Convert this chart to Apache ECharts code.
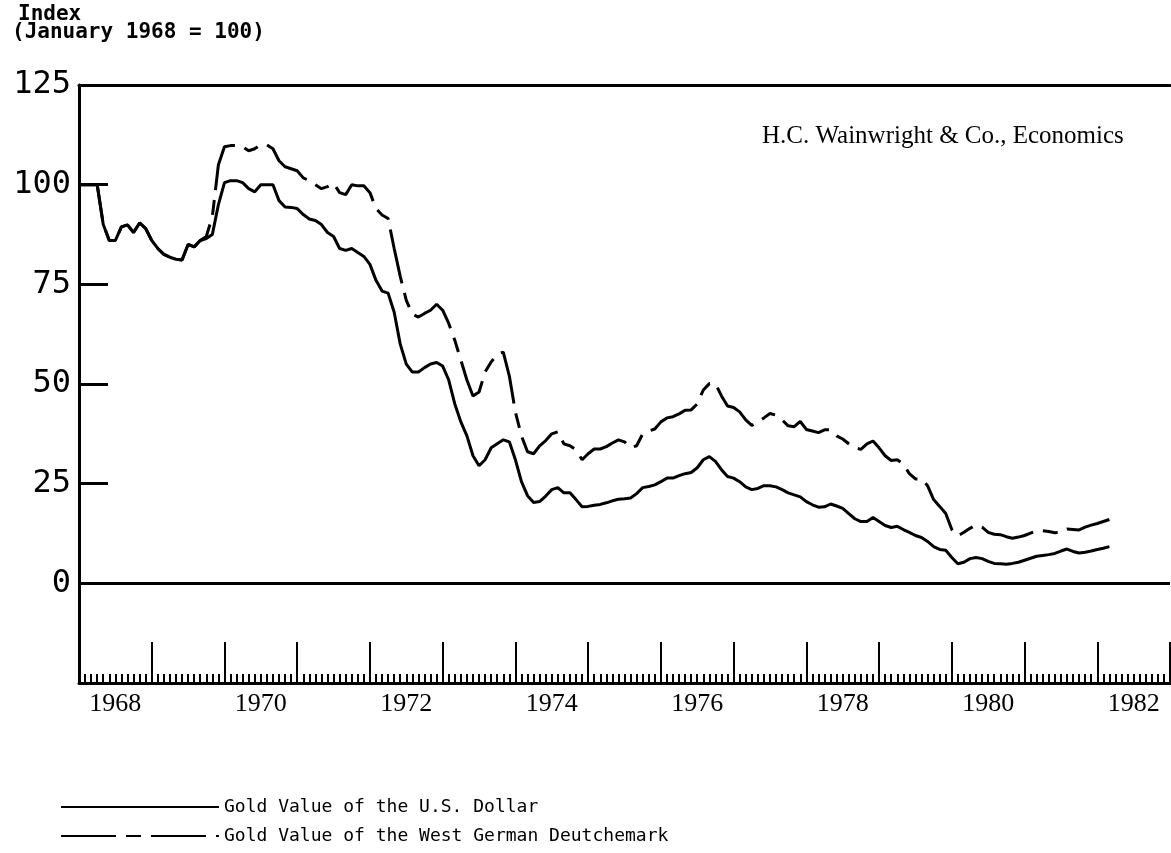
<!DOCTYPE html>
<html>
<head>
<meta charset="utf-8">
<script src="https://cdn.jsdelivr.net/npm/echarts@6/dist/echarts.min.js"></script>
<style>
  html, body { margin: 0; padding: 0; background: #fff; }
  #chart { width: 1171px; height: 853px; }
</style>
</head>
<body>
<div id="chart"></div>
<script>
// years on the time axis (Jan 1968 .. Jan 1983)
const years = [1968, 1969, 1970, 1971, 1972, 1973, 1974, 1975, 1976, 1977, 1978, 1979, 1980, 1981, 1982, 1983]

// monthly index values, Jan 1968 = 100
const usDollar = [
  100, 100, 100, 100, 90, 86, 86, 89.4, 89.9, 88, 90.4, 89,
  86, 84, 82.5, 81.8, 81.3, 81.1, 85, 84.4, 86, 86.5, 87.5, 95,
  100.5, 101, 101, 100.5, 99, 98.2, 100, 100, 100, 96, 94.4, 94.3,
  94, 92.5, 91.4, 91, 90, 88, 87, 84, 83.5, 84, 83, 82,
  80, 76, 73.3, 72.8, 68, 60, 55, 53, 53, 54.1, 55, 55.4,
  54.5, 51, 45, 40.5, 37, 32, 29.5, 31, 34, 35, 36, 35.5,
  31, 25.5, 22, 20.3, 20.5, 21.9, 23.5, 24, 22.7, 22.7, 21, 19.2,
  19.3, 19.6, 19.8, 20.2, 20.7, 21.1, 21.2, 21.4, 22.5, 24, 24.3, 24.7,
  25.5, 26.4, 26.4, 27, 27.5, 27.8, 29, 31, 31.8, 30.6, 28.5, 26.8,
  26.4, 25.5, 24.2, 23.5, 23.8, 24.5, 24.5, 24.2, 23.5, 22.7, 22.2, 21.7,
  20.5, 19.7, 19.1, 19.2, 19.9, 19.4, 18.8, 17.5, 16.2, 15.5, 15.5, 16.5,
  15.5, 14.5, 14, 14.3, 13.5, 12.8, 12, 11.5, 10.5, 9.2, 8.5, 8.3,
  6.5, 4.9, 5.3, 6.2, 6.5, 6.2, 5.5, 5.0, 4.9, 4.8, 5.0, 5.3,
  5.8, 6.3, 6.8, 7.0, 7.2, 7.5, 8.1, 8.6, 8.0, 7.6, 7.8, 8.1,
  8.5, 8.8, 9.2
]

const deutschemark = [
  100, 100, 100, 100, 90, 86, 86, 89.4, 89.9, 88, 90.4, 89,
  86, 84, 82.5, 81.8, 81.3, 81.1, 85, 84.4, 86, 87, 92, 105,
  109.5, 109.8, 109.8, 109.5, 108.5, 109, 110, 110, 109, 106, 104.5, 104,
  103.5, 101.7, 101, 100, 99, 99.5, 100.3, 98, 97.5, 100, 99.7, 99.7,
  98, 94, 92.4, 91.5, 84, 77, 71, 67.5, 66.8, 67.7, 68.5, 70,
  68.5, 65.2, 61, 56, 51, 47, 48, 53, 55.5, 57.5, 58, 52,
  43, 37, 33, 32.5, 34.5, 35.8, 37.5, 38, 35, 34.5, 33.5, 31,
  32.5, 33.7, 33.7, 34.3, 35.2, 36, 35.5, 34, 34.5, 37.5, 38.2, 38.7,
  40.5, 41.5, 41.8, 42.5, 43.4, 43.5, 45, 48.5, 50.1, 50.1, 47, 44.5,
  44.1, 43, 41, 39.6, 40.5, 41.5, 42.6, 42.2, 41, 39.5, 39.3, 40.6,
  38.6, 38.2, 37.8, 38.5, 38.5, 37, 36.2, 35, 34, 33.6, 35, 35.7,
  34, 32, 30.8, 31, 30, 27.5, 26.2, 26.2, 24.5, 21, 19.3, 17.5,
  13.5, 11.9, 12.8, 13.8, 14.6, 14.1, 12.8, 12.3, 12.2, 11.7, 11.3, 11.6,
  12, 12.6, 13.2, 13.2, 13, 12.7, 12.8, 13.6, 13.5, 13.4, 14.1, 14.6,
  15, 15.5, 16
]

const seriesNames = ['Gold Value of the U.S. Dollar', 'Gold Value of the West German Deutchemark']

// month categories, one per tick on the time axis
const months = []
years.forEach((y) => {
  for (let m = 1; m <= 12; m++) {
    if (y === 1983 && m > 1) break
    months.push(y + '-' + (m < 10 ? '0' + m : m))
  }
})

const chart = echarts.init(document.getElementById('chart'), null, { renderer: 'canvas' })

const monoFont = '"DejaVu Sans Mono", monospace'
const serifFont = '"Liberation Serif", serif'

const option = {
  backgroundColor: '#fff',
  animation: false,
  color: ['#000', '#000'],
  grid: {
    left: 79,
    right: 1,
    top: 85,
    bottom: 170,
    outerBoundsMode: 'none'
  },
  legend: {
    orient: 'vertical',
    left: 60,
    top: 798,
    padding: 0,
    itemWidth: 158,
    itemHeight: 14,
    itemGap: 11,
    itemStyle: { opacity: 0 },
    textStyle: { fontFamily: monoFont, fontSize: 18, color: '#000' },
    data: seriesNames
  },
  xAxis: [
    {
      // monthly minor ticks + year labels
      type: 'category',
      position: 'bottom',
      data: months,
      boundaryGap: false,
      axisLine: { onZero: false, lineStyle: { color: '#000', width: 3 } },
      axisTick: { inside: true, length: 9, interval: 0, lineStyle: { color: '#000', width: 2 } },
      axisLabel: {
        interval: (i) => i % 24 === 6,
        formatter: (v) => v.slice(0, 4),
        fontFamily: serifFont,
        fontSize: 26,
        color: '#000',
        margin: 8
      },
      splitLine: { show: false }
    },
    {
      // yearly major ticks
      type: 'category',
      position: 'bottom',
      data: months,
      boundaryGap: false,
      axisLine: { show: false, onZero: false },
      axisTick: { inside: true, length: 41, interval: (i) => i % 12 === 0, lineStyle: { color: '#000', width: 2 } },
      axisLabel: { show: false },
      splitLine: { show: false }
    },
    {
      // frame line at the top
      type: 'category',
      position: 'top',
      data: months,
      boundaryGap: false,
      axisLine: { onZero: false, lineStyle: { color: '#000', width: 3 } },
      axisTick: { show: false },
      axisLabel: { show: false },
      splitLine: { show: false }
    }
  ],
  yAxis: {
    type: 'value',
    min: -25,
    max: 125,
    interval: 25,
    axisLine: { show: true, onZero: false, lineStyle: { color: '#000', width: 3 } },
    axisTick: { show: true, inside: true, length: 29, lineStyle: { color: '#000', width: 3 } },
    axisLabel: {
      formatter: (v) => (v < 0 ? '' : v),
      fontFamily: monoFont,
      fontSize: 32,
      color: '#000',
      margin: 8
    },
    splitLine: { show: false }
  },
  series: [
    {
      name: seriesNames[0],
      type: 'line',
      xAxisIndex: 0,
      data: usDollar,
      symbol: 'none',
      itemStyle: { color: '#000' },
      lineStyle: { color: '#000', width: 3 },
      markLine: {
        silent: true,
        symbol: 'none',
        label: { show: false },
        lineStyle: { color: '#000', width: 3, type: 'solid' },
        data: [{ yAxis: 0 }]
      }
    },
    {
      name: seriesNames[1],
      type: 'line',
      xAxisIndex: 0,
      data: deutschemark,
      symbol: 'none',
      itemStyle: { color: '#000' },
      lineStyle: { color: '#000', width: 3, type: [55, 10, 15, 10] }
    }
  ],
  graphic: [
    {
      type: 'text',
      left: 18,
      top: 4,
      style: { text: 'Index', font: 'bold 21px ' + monoFont, fill: '#000' }
    },
    {
      type: 'text',
      left: 12,
      top: 22,
      style: { text: '(January 1968 = 100)', font: 'bold 21px ' + monoFont, fill: '#000' }
    },
    {
      type: 'text',
      left: 762,
      top: 124,
      style: { text: 'H.C. Wainwright & Co., Economics', font: '25px ' + serifFont, fill: '#000' }
    }
  ]
}

chart.setOption(option)
</script>
</body>
</html>
